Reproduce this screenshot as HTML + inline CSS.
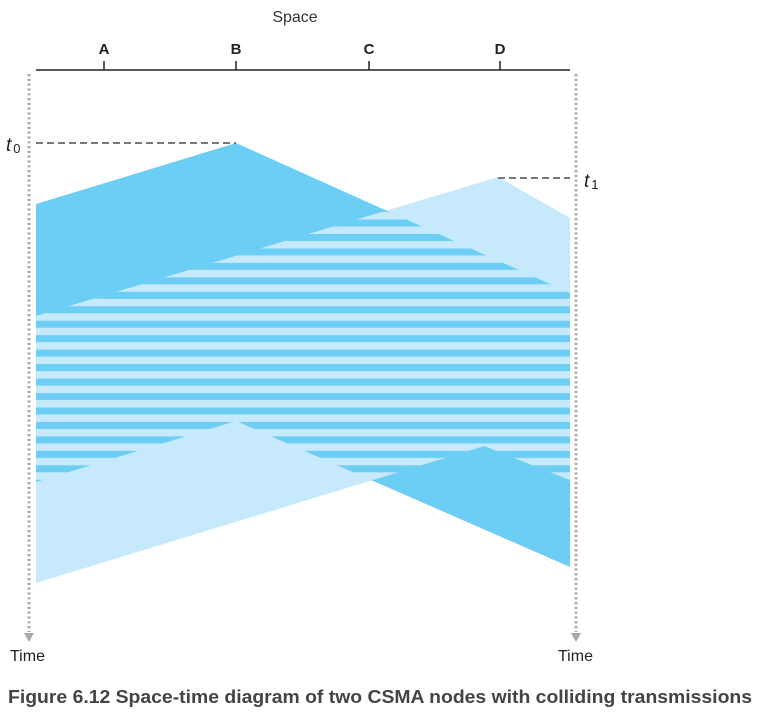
<!DOCTYPE html>
<html><head><meta charset="utf-8"><style>
body{margin:0;background:#fff;width:778px;height:717px;overflow:hidden;font-family:"Liberation Sans",sans-serif}
</style></head><body>
<svg width="778" height="717" viewBox="0 0 778 717">
<defs>
<pattern id="stripes" patternUnits="userSpaceOnUse" x="0" y="219.5" width="10" height="14.46">
<rect width="10" height="14.46" fill="#c6e9fb"/><rect width="10" height="7" fill="#6dcef5"/>
</pattern>
<clipPath id="clipB"><polygon id="cpB"/></clipPath>
<clipPath id="clipD"><polygon id="cpD"/></clipPath>
</defs>
<g id="sig"></g>
<line x1="36" y1="70" x2="570" y2="70" stroke="#222" stroke-width="1.5"/>
<g id="ticks"></g>
<text x="295" y="22" font-size="16" fill="#333" text-anchor="middle">Space</text>
<line x1="29" y1="74" x2="29" y2="632" stroke="#aaa" stroke-width="3" stroke-dasharray="2.2 2.6"/>
<polygon points="24,633 34,633 29,642" fill="#aaa"/>
<line x1="576" y1="74" x2="576" y2="632" stroke="#aaa" stroke-width="3" stroke-dasharray="2.2 2.6"/>
<polygon points="571,633 581,633 576,642" fill="#aaa"/>
<line x1="36" y1="143" x2="236" y2="143" stroke="#777" stroke-width="2" stroke-dasharray="7 4"/>
<line x1="498" y1="178" x2="570" y2="178" stroke="#777" stroke-width="2" stroke-dasharray="7 4"/>
<text x="6" y="151" font-size="19" font-style="italic" fill="#222">t<tspan font-size="13" font-style="normal" dx="2" dy="2">0</tspan></text>
<text x="584" y="187" font-size="19" font-style="italic" fill="#222">t<tspan font-size="13" font-style="normal" dx="2" dy="2">1</tspan></text>
<text x="10" y="661" font-size="16" fill="#222">Time</text>
<text x="558" y="661" font-size="16" fill="#222">Time</text>
<text x="8" y="703" font-size="18" font-weight="bold" fill="#444" textLength="744" lengthAdjust="spacingAndGlyphs">Figure 6.12 Space-time diagram of two CSMA nodes with colliding transmissions</text>
</svg>
<script>
const nodeNames = ["A","B","C","D"];
const nodeX = [104,236,369,500];
const signalB = [[36,204],[236,143],[570,293],[570,567],[236,421],[36,482]];
const signalD = [[36,316],[498,177],[570,218],[570,480],[484,446],[36,583]];
const NS="http://www.w3.org/2000/svg";
const pts = a => a.map(p=>p.join(",")).join(" ");
document.getElementById("cpB").setAttribute("points",pts(signalB));
document.getElementById("cpD").setAttribute("points",pts(signalD));
const sig=document.getElementById("sig");
const pB=document.createElementNS(NS,"polygon");
pB.setAttribute("points",pts(signalB));pB.setAttribute("fill","#6dcef5");


sig.appendChild(pB);
const pD=document.createElementNS(NS,"polygon");
pD.setAttribute("points",pts(signalD));pD.setAttribute("fill","#c6e9fb");


sig.appendChild(pD);
const g=document.createElementNS(NS,"g");g.setAttribute("clip-path","url(#clipD)");
const r=document.createElementNS(NS,"rect");
r.setAttribute("x",0);r.setAttribute("y",0);r.setAttribute("width",778);r.setAttribute("height",717);
r.setAttribute("fill","url(#stripes)");r.setAttribute("clip-path","url(#clipB)");


g.appendChild(r);sig.appendChild(g);
const tk=document.getElementById("ticks");
nodeNames.forEach((n,i)=>{
  const l=document.createElementNS(NS,"line");
  l.setAttribute("x1",nodeX[i]);l.setAttribute("x2",nodeX[i]);l.setAttribute("y1",61);l.setAttribute("y2",70);
  l.setAttribute("stroke","#222");l.setAttribute("stroke-width","1.5");
  
  
  tk.appendChild(l);
  const t=document.createElementNS(NS,"text");
  t.setAttribute("x",nodeX[i]);t.setAttribute("y",54);t.setAttribute("text-anchor","middle");
  t.setAttribute("font-size","15");t.setAttribute("font-weight","bold");t.setAttribute("fill","#222");
  t.textContent=n;
  
  
  tk.appendChild(t);
});
</script>
</body></html>
